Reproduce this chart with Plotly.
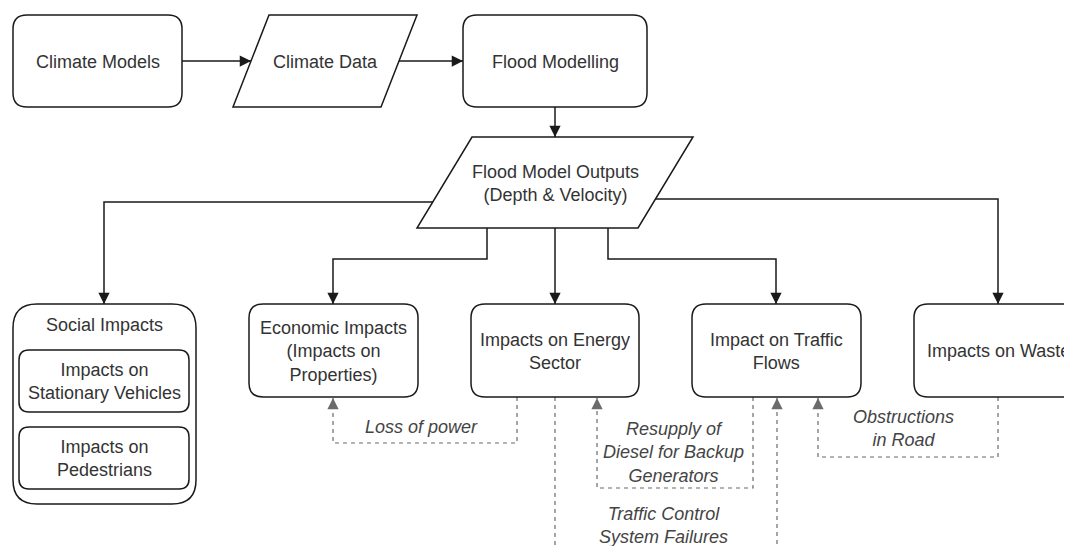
"""
Flood impact flowchart: climate models -> flood model outputs -> impact areas.
Drawn with Plotly shapes on a pixel-sized canvas (y axis reversed).
"""

import plotly.graph_objects as go

W, H = 1072, 546
PAGE_MARGIN = 8  # default body margin of the html page

# --- node labels -------------------------------------------------------------
box_labels = [
    "Climate Models",
    "Flood Modelling",
    "Economic Impacts<br>(Impacts on<br>Properties)",
    "Impacts on Energy<br>Sector",
    "Impact on Traffic<br>Flows",
    "Impacts on Waste",
]
para_labels = [
    "Climate Data",
    "Flood Model Outputs<br>(Depth & Velocity)",
]
group_title = "Social Impacts"
group_items = [
    "Impacts on<br>Stationary Vehicles",
    "Impacts on<br>Pedestrians",
]
link_labels = [
    "Loss of power",
    "Resupply of<br>Diesel for Backup<br>Generators",
    "Traffic Control<br>System Failures",
    "Obstructions<br>in Road",
]

# --- layout geometry (pixels) -----------------------------------------------
# rounded boxes: x0, y0, x1, y1
box_geom = [
    (13, 15, 182, 107),
    (463, 15, 647, 107),
    (249, 304, 418, 397),
    (471, 304, 639, 397),
    (692, 304, 861, 397),
    (914, 304, 1082, 397),
]
# parallelograms: top-left x, top-right x, bottom-left x, bottom-right x, y top, y bottom
para_geom = [
    (269, 417, 233, 381, 15, 107),
    (472, 693, 417, 638, 137, 228),
]
group_geom = (13, 304, 196, 504)
group_title_pos = (104.5, 325)
group_item_geom = [
    (19, 350, 189, 412),
    (19, 427, 189, 489),
]
link_label_pos = [(421, 427), (673, 452), (663, 525), (903, 428)]

# connectors as waypoint lists
solid_edges = [
    [(182, 61), (251, 61)],
    [(399, 61), (463, 61)],
    [(555, 107), (555, 137)],
    [(433, 202), (104, 202), (104, 304)],
    [(656, 199), (998, 199), (998, 304)],
    [(487, 228), (487, 259), (333, 259), (333, 304)],
    [(555, 228), (555, 304)],
    [(608, 228), (608, 259), (776, 259), (776, 304)],
]
dashed_edges = [
    [(517, 397), (517, 443), (333, 443), (333, 398)],
    [(753, 397), (753, 488), (597, 488), (597, 398)],
    [(555, 397), (555, 560)],
    [(777, 560), (777, 398)],
    [(998, 397), (998, 457), (818, 457), (818, 398)],
]
dashed_has_arrow = [True, True, False, True, True]

TEXT = "#333333"
STROKE = "#1a1a1a"
DASH = "#6b6b6b"
FONT = "Liberation Sans, Arial, sans-serif"


def rounded_path(x0, y0, x1, y1, r):
    return (
        f"M {x0 + r},{y0} L {x1 - r},{y0} Q {x1},{y0} {x1},{y0 + r} "
        f"L {x1},{y1 - r} Q {x1},{y1} {x1 - r},{y1} "
        f"L {x0 + r},{y1} Q {x0},{y1} {x0},{y1 - r} "
        f"L {x0},{y0 + r} Q {x0},{y0} {x0 + r},{y0} Z"
    )


def add_arrowhead(fig, pts, color):
    (xa, ya), (xb, yb) = pts[-2], pts[-1]
    dx = (xb > xa) - (xb < xa)
    dy = (yb > ya) - (yb < ya)
    fig.add_annotation(
        x=xb, y=yb, ax=xb - dx * 9, ay=yb - dy * 9,
        xref="x", yref="y", axref="x", ayref="y",
        showarrow=True, arrowhead=2, arrowsize=1.5, arrowwidth=1.5,
        arrowcolor=color, standoff=0, text="",
    )


fig = go.Figure()

# connectors first so boxes sit on top
for pts in solid_edges:
    fig.add_trace(go.Scatter(
        x=[p[0] for p in pts], y=[p[1] for p in pts], mode="lines",
        line=dict(color=STROKE, width=1.5), hoverinfo="skip", showlegend=False,
    ))
    add_arrowhead(fig, pts, STROKE)

for pts, has_arrow in zip(dashed_edges, dashed_has_arrow):
    fig.add_trace(go.Scatter(
        x=[p[0] for p in pts], y=[p[1] for p in pts], mode="lines",
        line=dict(color=DASH, width=1.2, dash="4px,4px"),
        hoverinfo="skip", showlegend=False,
    ))
    if has_arrow:
        add_arrowhead(fig, pts, DASH)

# rounded boxes
for label, (x0, y0, x1, y1) in zip(box_labels, box_geom):
    fig.add_shape(type="path", path=rounded_path(x0, y0, x1, y1, 14),
                  xref="x", yref="y", fillcolor="white",
                  line=dict(color=STROKE, width=1.5))
    fig.add_annotation(x=(x0 + x1) / 2, y=(y0 + y1) / 2 + 0.5, text=label,
                       showarrow=False, xref="x", yref="y",
                       font=dict(family=FONT, size=18, color=TEXT))

# parallelograms
for label, (tl, tr, bl, br, yt, yb) in zip(para_labels, para_geom):
    fig.add_shape(type="path",
                  path=f"M {tl},{yt} L {tr},{yt} L {br},{yb} L {bl},{yb} Z",
                  xref="x", yref="y", fillcolor="white",
                  line=dict(color=STROKE, width=1.5))
    fig.add_annotation(x=(tl + tr + bl + br) / 4, y=(yt + yb) / 2 + 1,
                       text=label, showarrow=False, xref="x", yref="y",
                       font=dict(family=FONT, size=18, color=TEXT))

# social impacts group
gx0, gy0, gx1, gy1 = group_geom
fig.add_shape(type="path", path=rounded_path(gx0, gy0, gx1, gy1, 24),
              xref="x", yref="y", fillcolor="white",
              line=dict(color=STROKE, width=1.5))
fig.add_annotation(x=group_title_pos[0], y=group_title_pos[1], text=group_title,
                   showarrow=False, xref="x", yref="y",
                   font=dict(family=FONT, size=18, color=TEXT))
for label, (x0, y0, x1, y1) in zip(group_items, group_item_geom):
    fig.add_shape(type="path", path=rounded_path(x0, y0, x1, y1, 10),
                  xref="x", yref="y", fillcolor="white",
                  line=dict(color=STROKE, width=1.5))
    fig.add_annotation(x=(x0 + x1) / 2, y=(y0 + y1) / 2, text=label,
                       showarrow=False, xref="x", yref="y",
                       font=dict(family=FONT, size=18, color=TEXT))

# italic link labels
for label, (lx, ly) in zip(link_labels, link_label_pos):
    fig.add_annotation(x=lx, y=ly, text=f"<i>{label}</i>", showarrow=False,
                       xref="x", yref="y",
                       font=dict(family=FONT, size=18, color="#444444"))

# the page puts the plot 8px in from the corner; shrink and shift to compensate
fig.update_layout(
    width=W - PAGE_MARGIN, height=H - PAGE_MARGIN,
    margin=dict(l=0, r=0, t=0, b=0),
    paper_bgcolor="white", plot_bgcolor="white",
    xaxis=dict(range=[PAGE_MARGIN, W], visible=False, fixedrange=True),
    yaxis=dict(range=[H, PAGE_MARGIN], visible=False, fixedrange=True),
    showlegend=False,
)

fig.write_html("out.html")
